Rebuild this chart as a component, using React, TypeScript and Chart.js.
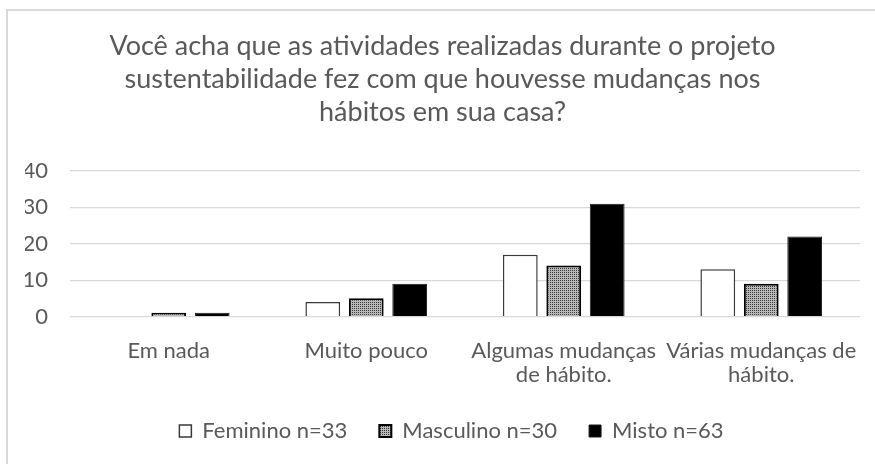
import React, { useEffect, useRef } from "react";
import { Chart, registerables } from "chart.js";

Chart.register(...registerables);

const TITLE_LINES = [
  "Você acha que as atividades realizadas durante o projeto",
  "sustentabilidade fez com que houvesse mudanças nos",
  "hábitos em sua casa?",
];
const CATEGORIES: (string | string[])[] = [
  "Em nada",
  "Muito pouco",
  ["Algumas mudanças", "de hábito."],
  ["Várias mudanças de", "hábito."],
];
const SERIES_NAMES = ["Feminino n=33", "Masculino n=30", "Misto n=63"];
const FEMININO = [0, 4, 17, 13];
const MASCULINO = [1, 5, 14, 9];
const MISTO = [1, 9, 31, 22];
const Y_MIN = 0;
const Y_MAX = 40;
const Y_STEP = 10;

const TEXT = "#595959";
const FONT = "Lato";
const LEGEND_SHIFT = 9;

const legendShift = {
  id: "legendShift",
  afterLayout(chart: any) {
    const lg = chart.legend;
    if (lg) {
      lg.left += LEGEND_SHIFT;
      lg.right += LEGEND_SHIFT;
    }
  },
};

export default function App() {
  const ref = useRef<HTMLCanvasElement>(null);

  useEffect(() => {
    const canvas = ref.current!;
    const pc = document.createElement("canvas");
    pc.width = 2;
    pc.height = 2;
    const pctx = pc.getContext("2d")!;
    pctx.fillStyle = "#b8b8b8";
    pctx.fillRect(0, 0, 2, 2);
    pctx.fillStyle = "#3a3a3a";
    pctx.fillRect(0, 0, 1, 1);
    const pattern = canvas.getContext("2d")!.createPattern(pc, "repeat")!;

    const chart = new Chart(canvas, {
      type: "bar",
      data: {
        labels: CATEGORIES,
        datasets: [
          { label: SERIES_NAMES[0], data: FEMININO, backgroundColor: "#ffffff", borderColor: "#3a3a3a", borderWidth: 1.5 },
          { label: SERIES_NAMES[1], data: MASCULINO, backgroundColor: pattern, borderColor: "#000000", borderWidth: 2 },
          { label: SERIES_NAMES[2], data: MISTO, backgroundColor: "#000000", borderColor: "#1a1a1a", borderWidth: 1 },
        ],
      },
      options: {
        responsive: false,
        animation: false,
        devicePixelRatio: 1,
        datasets: { bar: { categoryPercentage: 0.66, barPercentage: 0.8 } },
        layout: { padding: { left: 25, right: 15, top: 0, bottom: 12 } },
        plugins: {
          tooltip: { enabled: false },
          title: {
            display: true,
            text: TITLE_LINES,
            color: TEXT,
            font: { family: FONT, size: 27, weight: "normal", lineHeight: 33 / 27 },
            padding: { top: 30, bottom: 42 },
          },
          legend: {
            position: "bottom",
            labels: {
              color: TEXT,
              font: { family: FONT, size: 22 },
              boxWidth: 12,
              boxHeight: 12,
              padding: 32,
            },
          },
        },
        scales: {
          x: {
            grid: { display: false, drawTicks: false },
            border: { display: false },
            ticks: {
              color: TEXT,
              font: { family: FONT, size: 22, lineHeight: 24 / 22 },
              padding: 22,
              maxRotation: 0,
              minRotation: 0,
              autoSkip: false,
            },
            afterFit: (s: any) => {
              s.height = 71.5;
              s.paddingLeft = 0;
              s.paddingRight = 0;
            },
          },
          y: {
            min: Y_MIN,
            max: Y_MAX,
            ticks: { stepSize: Y_STEP, color: TEXT, font: { family: FONT, size: 22 }, padding: 22 },
            grid: { color: "#d9d9d9", lineWidth: 1.2, drawTicks: false },
            border: { display: false },
            afterFit: (s: any) => {
              s.width = 45;
            },
          },
        },
      },
      plugins: [legendShift],
    });
    return () => chart.destroy();
  }, []);

  return (
    <div style={{ position: "fixed", left: 0, top: 0, width: 875, height: 464, overflow: "hidden", background: "#fff" }}>
      <div
        style={{
          position: "absolute",
          left: 6,
          top: 9,
          width: 900,
          height: 500,
          borderTop: "2px solid #d9d9d9",
          borderLeft: "2px solid #d9d9d9",
        }}
      />
      <canvas ref={ref} width={875} height={464} style={{ position: "absolute", left: 0, top: 0 }} />
    </div>
  );
}
